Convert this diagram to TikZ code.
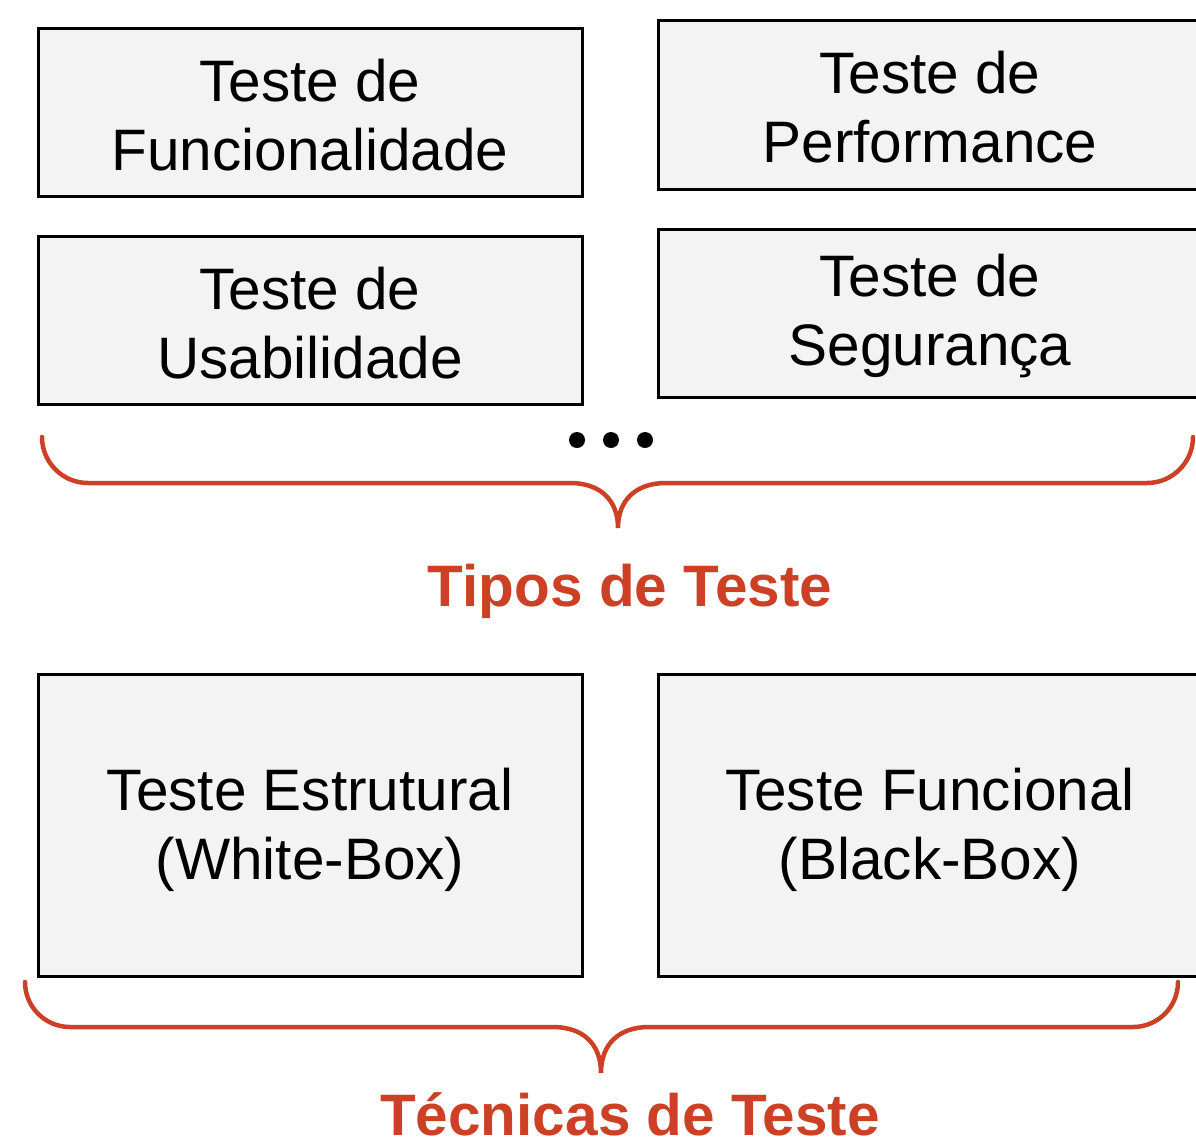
\documentclass[tikz,border=0pt]{standalone}
\usepackage{fontspec}
\setmainfont{Liberation Sans}
\definecolor{boxfill}{HTML}{F3F3F3}
\definecolor{bracered}{RGB}{204,65,37}
\begin{document}
\begin{tikzpicture}[x=1pt,y=-1pt,
  tbox/.style={draw=black,line width=3pt,fill=boxfill},
  tlabel/.style={align=center,font=\fontsize{58.5}{69}\selectfont,inner sep=0pt},
  brace/.style={draw=bracered,line width=4.5pt,line cap=round},
  btitle/.style={text=bracered,font=\fontsize{58.5}{68}\selectfont\bfseries,inner sep=0pt,anchor=base,text depth=0pt}]
\useasboundingbox (0,0) rectangle (1196,1144);
% top boxes
\draw[tbox] (38,28) rectangle (582,196);
\node[tlabel] (func) at (310,115) {Teste de\\Funcionalidade};
\draw[tbox] (658,20) rectangle (1205,189);
\node[tlabel] (perf) at (930,107) {Teste de\\Performance};
\draw[tbox] (38,236) rectangle (582,404);
\node[tlabel] (usab) at (310,323) {Teste de\\Usabilidade};
\draw[tbox] (658,229) rectangle (1205,397);
\node[tlabel] (seg) at (930,316) {Teste de\\Segurança};
% dots
\foreach \x in {577,611,645} \fill (\x,440) circle (8);
% brace 1
\draw[brace] (42,437) arc[start angle=180,end angle=90,radius=46]
  -- (570,483) .. controls (600,483) and (618,500) .. (618,528)
  .. controls (618,500) and (636,483) .. (666,483)
  -- (1147,483) arc[start angle=90,end angle=0,radius=46];
\node[btitle] (tipos) at (630,606) {Tipos de Teste};
% bottom boxes
\draw[tbox] (38,674) rectangle (582,976);
\node[tlabel] (estr) at (310,830) {Teste Estrutural\\(White-Box)};
\draw[tbox] (658,674) rectangle (1205,976);
\node[tlabel] (funcional) at (930,830) {Teste Funcional\\(Black-Box)};
% brace 2
\draw[brace] (25,982) arc[start angle=180,end angle=90,radius=45]
  -- (553,1027) .. controls (583,1027) and (601,1044) .. (601,1073)
  .. controls (601,1044) and (619,1027) .. (649,1027)
  -- (1133,1027) arc[start angle=90,end angle=0,radius=45];
\node[btitle] (tecn) at (630,1135) {Técnicas de Teste};
\end{tikzpicture}
\end{document}
